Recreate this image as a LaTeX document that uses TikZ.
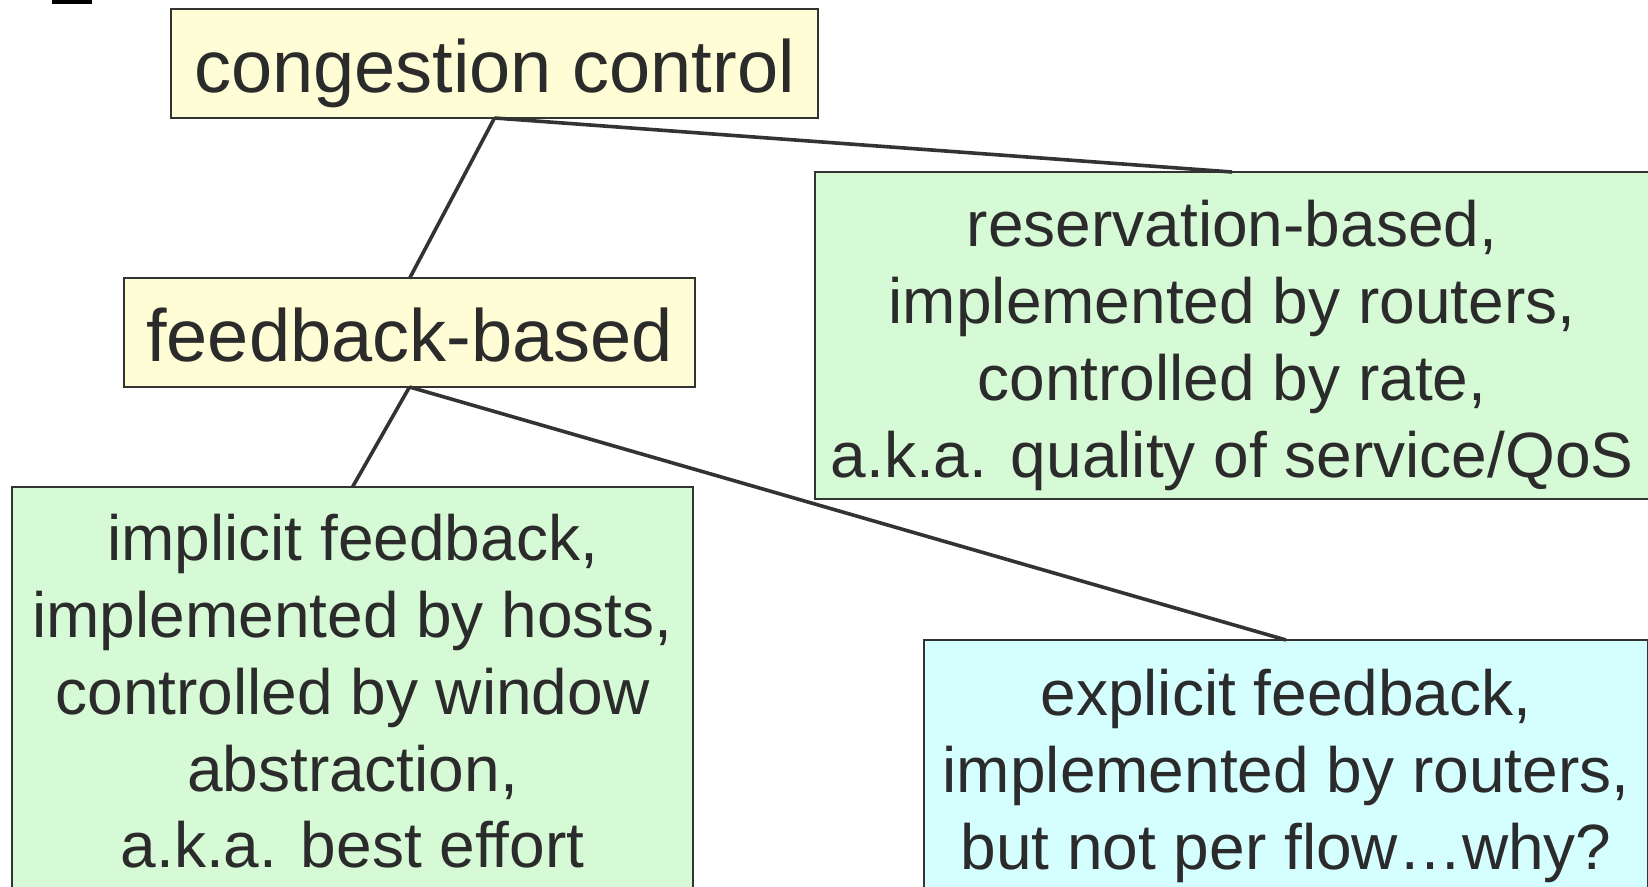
\documentclass[tikz,border=0pt]{standalone}
\usepackage{fontspec}
\setmainfont{Liberation Sans}
\definecolor{boxyellow}{RGB}{255,253,213}
\definecolor{boxgreen}{RGB}{213,250,213}
\definecolor{boxcyan}{RGB}{213,255,255}
\definecolor{edgegray}{RGB}{51,51,51}
\definecolor{inkgray}{RGB}{43,43,43}
\tikzset{
  boxnode/.style={draw=edgegray, line width=1pt, rectangle, inner sep=0pt, outer sep=0pt},
  titletext/.style={font=\fontsize{37}{44}\selectfont, text=inkgray, anchor=base, inner sep=0pt},
  bodytext/.style={font=\fontsize{32}{38.5}\selectfont, text=inkgray, align=center, inner sep=0pt},
  link/.style={draw=edgegray, line width=1.8pt}
}
\begin{document}
\begin{tikzpicture}[x=0.5pt,y=-0.5pt]
\useasboundingbox (0,0) rectangle (1648,887);
\clip (0,0) rectangle (1648,887);
\fill[white] (0,0) rectangle (1648,887);
% small black mark at top left
\fill[black] (52,0) rectangle (92,4);
% boxes
\node[boxnode, fill=boxyellow, minimum width=323.5pt, minimum height=54.25pt] (cc) at (494.5,63.75) {};
\node[boxnode, fill=boxyellow, minimum width=285.5pt, minimum height=54.25pt] (fb) at (409.5,332.75) {};
\node[boxnode, fill=boxgreen, minimum width=417pt, minimum height=163.5pt] (rb) at (1232,335.5) {};
\node[boxnode, fill=boxgreen, minimum width=340.5pt, minimum height=206pt] (ib) at (352.5,693) {};
\node[boxnode, fill=boxcyan, minimum width=362pt, minimum height=130pt] (eb) at (1286,770) {};
% connectors
\draw[link] (cc.south) -- (fb.north);
\draw[link] (cc.south) -- (rb.north);
\draw[link] (fb.south) -- (ib.north);
\draw[link] (fb.south) -- (eb.north);
% texts
\node[titletext] (cct) at (494.5,93) {congestion control};
\node[titletext] (fbt) at (409.5,362) {feedback-based};
\node[bodytext] (rbt) at (1232,345) {reservation-based,\\implemented by routers,\\controlled by rate,\\a.k.a. quality of service/QoS};
\node[bodytext, font=\fontsize{32}{38.4}\selectfont] (ibt) at (352.5,691.5) {implicit feedback,\\implemented by hosts,\\controlled by window\\abstraction,\\a.k.a. best effort};
\node[bodytext] (ebt) at (1286,776) {explicit feedback,\\implemented by routers,\\but not per flow…why?};
\end{tikzpicture}
\end{document}
